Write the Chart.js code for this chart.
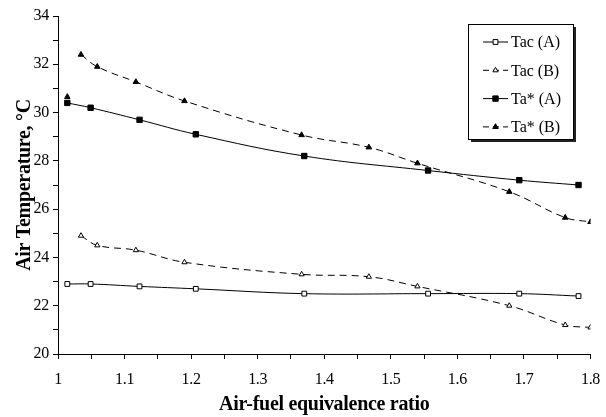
<!DOCTYPE html>
<html>
<head>
<meta charset="utf-8">
<title>Air temperature vs air-fuel equivalence ratio</title>
<script src="https://cdn.jsdelivr.net/npm/chart.js"></script>
<style>
  html, body { margin: 0; padding: 0; background: #fff; }
  canvas { display: block; }
</style>
</head>
<body>
<canvas id="airTemp" width="606" height="417"></canvas>
<script>
// equivalence ratios of the two test series
var ratioA = [1.014, 1.049, 1.1225, 1.207, 1.37, 1.556, 1.693, 1.782];
var ratioB = [1.0345, 1.059, 1.117, 1.19, 1.366, 1.467, 1.54, 1.678, 1.762, 1.8];

// air temperatures, deg C
var tacA = [22.9, 22.9, 22.8, 22.7, 22.5, 22.5, 22.5, 22.4];
var tacB = [24.9, 24.5, 24.3, 23.8, 23.3, 23.2, 22.8, 22.0, 21.2, 21.1];
var taStarA = [30.4, 30.2, 29.7, 29.1, 28.2, 27.6, 27.2, 27.0];
var taStarB = [32.4, 31.9, 31.27, 30.48, 29.07, 28.56, 27.9, 26.72, 25.65, 25.47];

// single unconnected Ta* (B) reading at the lowest ratio
var taStarBFirstX = 1.014;
var taStarBFirstY = 30.65;

var seriesLabels = ['Tac (A)', 'Tac (B)', 'Ta* (A)', 'Ta* (B)'];

var xTicks = { min: 1, max: 1.8, step: 0.05 };
var yTicks = { min: 20, max: 34, step: 1 };

var serif = "'Liberation Serif', 'Times New Roman', serif";

function pairs(xs, ys){
	var out = [];
	for(var i = 0; i < xs.length; i++){
		out.push({x: xs[i], y: ys[i]});
	}
	return out;
}

function makeSet(label, data, dashed, style, fill, r){
	return {
		label: label,
		data: data,
		showLine: true,
		tension: 0.4,
		borderColor: '#000',
		borderWidth: 1,
		borderDash: dashed ? [7, 5] : [],
		spanGaps: false,
		pointStyle: style,
		pointRadius: r,
		pointHoverRadius: r,
		pointBackgroundColor: fill,
		pointBorderColor: '#000',
		pointBorderWidth: 1
	};
}

var taStarBData = [{x: taStarBFirstX, y: taStarBFirstY}, {x: 1.02, y: null}].concat(pairs(ratioB, taStarB));

var datasets = [
	makeSet(seriesLabels[0], pairs(ratioA, tacA), false, 'rect', '#fff', 3.4),
	makeSet(seriesLabels[1], pairs(ratioB, tacB), true, 'triangle', '#fff', 3),
	makeSet(seriesLabels[2], pairs(ratioA, taStarA), false, 'rect', '#000', 3.8),
	makeSet(seriesLabels[3], taStarBData, true, 'triangle', '#000', 3.2)
];

// slightly tighter text, like the old Times output
var tightText = {
	id: 'tightText',
	beforeDraw: function(chart){ chart.ctx.letterSpacing = '-0.3px'; },
	afterDraw: function(chart){ chart.ctx.letterSpacing = '0px'; }
};

// boxed legend with drop shadow, drawn inside the plot area
var boxLegend = {
	id: 'boxLegend',
	afterDraw: function(chart){
		var ctx = chart.ctx;
		var bx = 468, by = 24, bw = 105, bh = 115;
		ctx.save();
		ctx.fillStyle = '#222';
		ctx.fillRect(bx + 3, by + 3, bw, bh);
		ctx.fillStyle = '#fff';
		ctx.fillRect(bx, by, bw, bh);
		ctx.strokeStyle = '#000';
		ctx.lineWidth = 1;
		ctx.strokeRect(bx + 0.5, by + 0.5, bw, bh);

		ctx.font = '16px ' + serif;
		ctx.textBaseline = 'middle';
		ctx.textAlign = 'left';
		for(var i = 0; i < chart.data.datasets.length; i++){
			var ds = chart.data.datasets[i];
			var rowY = 42 + i * 28.3;
			ctx.strokeStyle = '#000';
			ctx.lineWidth = 1;
			ctx.setLineDash(ds.borderDash.length ? [6, 4] : []);
			ctx.beginPath();
			ctx.moveTo(483, rowY);
			ctx.lineTo(508, rowY);
			ctx.stroke();
			ctx.setLineDash([]);
			ctx.fillStyle = ds.pointBackgroundColor;
			ctx.strokeStyle = '#000';
			Chart.helpers.drawPoint(ctx, {pointStyle: ds.pointStyle, rotation: 0, radius: ds.pointRadius, borderWidth: 1}, 495.5, rowY);
			ctx.fillStyle = '#000';
			ctx.fillText(ds.label, 511, rowY + 1);
		}
		ctx.restore();
	}
};

var chart = new Chart(document.getElementById('airTemp'), {
	type: 'scatter',
	data: { datasets: datasets },
	options: {
		responsive: false,
		animation: false,
		devicePixelRatio: 1,
		layout: { padding: { top: 16, right: 15.5, left: 0, bottom: 0 } },
		plugins: {
			legend: { display: false },
			tooltip: { enabled: false }
		},
		scales: {
			x: {
				type: 'linear',
				min: xTicks.min,
				max: xTicks.max,
				afterFit: function(scale){
					scale.height = 63;
					scale.paddingLeft = 0;
					scale.paddingRight = 0;
				},
				border: { display: true, color: '#000', width: 1 },
				grid: { drawOnChartArea: false, drawTicks: true, tickLength: 5, color: '#000' },
				ticks: {
					stepSize: xTicks.step,
					autoSkip: false,
					maxRotation: 0,
					padding: 11,
					color: '#000',
					font: { family: serif, size: 16 },
					callback: function(v){
						return Math.round(v * 100) % 10 === 0 ? String(Number(v.toFixed(1))) : '';
					}
				},
				title: {
					display: true,
					text: 'Air-fuel equivalence ratio',
					color: '#000',
					font: { family: serif, size: 20, weight: 'bold' },
					padding: { top: 0, bottom: 0 }
				}
			},
			y: {
				type: 'linear',
				min: yTicks.min,
				max: yTicks.max,
				afterFit: function(scale){
					scale.width = 58;
					scale.paddingTop = 0;
					scale.paddingBottom = 0;
				},
				border: { display: true, color: '#000', width: 1 },
				grid: { drawOnChartArea: false, drawTicks: true, tickLength: 5, color: '#000' },
				ticks: {
					stepSize: yTicks.step,
					autoSkip: false,
					padding: 4,
					color: '#000',
					font: { family: serif, size: 16 },
					callback: function(v){
						return v % 2 === 0 ? String(v) : '';
					}
				},
				title: {
					display: true,
					text: 'Air Temperature, °C',
					color: '#000',
					font: { family: serif, size: 20, weight: 'bold' },
					padding: { top: 13, bottom: 0 }
				}
			}
		}
	},
	plugins: [tightText, boxLegend]
});
</script>
</body>
</html>
